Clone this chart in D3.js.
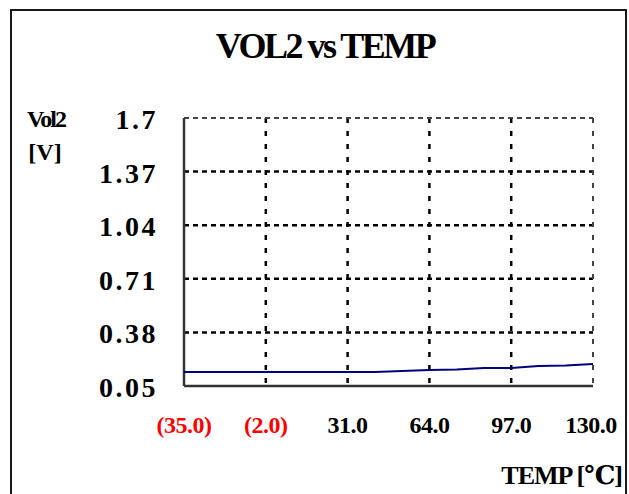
<!DOCTYPE html>
<html>
<head>
<meta charset="utf-8">
<script src="https://cdn.jsdelivr.net/npm/d3@7"></script>
<style>
  html, body { margin: 0; padding: 0; background: #fff; }
  svg { display: block; }
  text { font-family: "Liberation Serif", "DejaVu Serif", serif; font-weight: bold; }
</style>
</head>
<body>
<svg id="chart" width="629" height="494"></svg>
<script>
// Measured temperatures (°C) and the matching VOL2 readings (V)
const temps = [-35, -24, -13, -2, 9, 20, 31, 42, 53, 64, 75, 86, 97, 108, 119, 130];
const vol2  = [0.136, 0.136, 0.136, 0.136, 0.136, 0.136, 0.136, 0.136, 0.142, 0.148, 0.152, 0.161, 0.161, 0.173, 0.176, 0.185];

// Axis ticks
const xTicks = [-35, -2, 31, 64, 97, 130];
const yTicks = [0.05, 0.38, 0.71, 1.04, 1.37, 1.7];

const svg = d3.select("#chart");
const plot = { left: 184, right: 593, top: 118, bottom: 386 };

// Outer frame (open at the bottom edge)
svg.append("rect")
  .attr("x", 11).attr("y", 10)
  .attr("width", 615).attr("height", 500)
  .attr("fill", "none").attr("stroke", "#000").attr("stroke-width", 1.8);

const x = d3.scaleLinear().domain([-35, 130]).range([plot.left, plot.right]);
const y = d3.scaleLinear().domain([0.05, 1.7]).range([plot.bottom, plot.top]);

// Title
svg.append("text")
  .attr("x", 325).attr("y", 58)
  .attr("text-anchor", "middle")
  .attr("font-size", 36)
  .attr("letter-spacing", -2.5)
  .text("VOL2 vs TEMP");

// Dotted grid lines
const grid = svg.append("g");
grid.selectAll("line.v")
  .data(xTicks.slice(1, -1))
  .join("line")
  .attr("x1", d => x(d)).attr("x2", d => x(d))
  .attr("y1", plot.top).attr("y2", plot.bottom)
  .attr("stroke", "#000").attr("stroke-width", 2.5)
  .attr("stroke-dasharray", "5,8");
grid.selectAll("line.h")
  .data(yTicks.slice(1, -1))
  .join("line")
  .attr("x1", plot.left).attr("x2", plot.right)
  .attr("y1", d => y(d)).attr("y2", d => y(d))
  .attr("stroke", "#000").attr("stroke-width", 2.5)
  .attr("stroke-dasharray", "5,4");
// top and right edges, dashed
grid.append("line")
  .attr("x1", plot.left).attr("x2", plot.right)
  .attr("y1", plot.top).attr("y2", plot.top)
  .attr("stroke", "#444").attr("stroke-width", 2)
  .attr("stroke-dasharray", "5,4");
grid.append("line")
  .attr("x1", plot.right).attr("x2", plot.right)
  .attr("y1", plot.top).attr("y2", plot.bottom)
  .attr("stroke", "#444").attr("stroke-width", 2)
  .attr("stroke-dasharray", "5,8");

// Solid left and bottom axis lines
svg.append("line")
  .attr("x1", plot.left).attr("x2", plot.left)
  .attr("y1", plot.top).attr("y2", plot.bottom)
  .attr("stroke", "#333").attr("stroke-width", 2.5);
svg.append("line")
  .attr("x1", plot.left).attr("x2", plot.right)
  .attr("y1", plot.bottom).attr("y2", plot.bottom)
  .attr("stroke", "#333").attr("stroke-width", 2.5);

// Data line
svg.append("path")
  .datum(temps.map((t, i) => [t, vol2[i]]))
  .attr("fill", "none")
  .attr("stroke", "#00007f")
  .attr("stroke-width", 2)
  .attr("d", d3.line().x(d => x(d[0])).y(d => y(d[1])));

// Y tick labels
svg.append("g").selectAll("text")
  .data(yTicks)
  .join("text")
  .attr("x", 158)
  .attr("y", d => y(d) + 11)
  .attr("text-anchor", "end")
  .attr("font-size", 28)
  .attr("letter-spacing", 2.5)
  .text(d => d.toString());

// X tick labels; negatives shown in red parentheses
const fmtX = d => d < 0 ? "(" + Math.abs(d).toFixed(1) + ")" : d.toFixed(1);
svg.append("g").selectAll("text")
  .data(xTicks)
  .join("text")
  .attr("x", (d, i) => i === xTicks.length - 1 ? x(d) - 2 : x(d))
  .attr("y", 433)
  .attr("text-anchor", "middle")
  .attr("font-size", 24)
  .attr("letter-spacing", -0.5)
  .attr("fill", d => d < 0 ? "#ff0000" : "#000")
  .text(fmtX);

// Axis titles
svg.append("text")
  .attr("x", 46).attr("y", 127)
  .attr("text-anchor", "middle")
  .attr("font-size", 24)
  .attr("letter-spacing", -2)
  .text("Vol2");
svg.append("text")
  .attr("x", 45).attr("y", 160)
  .attr("text-anchor", "middle")
  .attr("font-size", 24)
  .text("[V]");
svg.append("text")
  .attr("x", 622).attr("y", 484)
  .attr("text-anchor", "end")
  .attr("font-size", 26)
  .attr("letter-spacing", -1)
  .text("TEMP [℃]");
</script>
</body>
</html>
